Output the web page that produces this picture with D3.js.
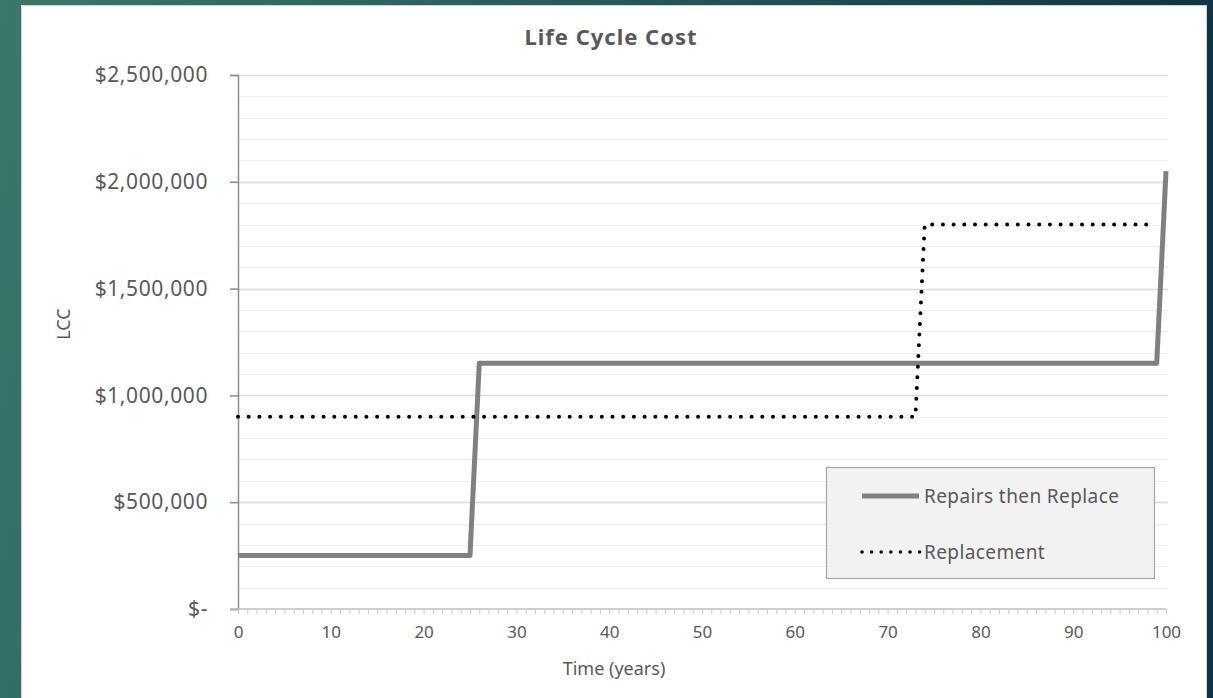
<!DOCTYPE html>
<html>
<head>
<meta charset="utf-8">
<script src="https://cdn.jsdelivr.net/npm/d3@7"></script>
<style>
  html, body { margin: 0; padding: 0; background: #2a5f5c; }
  svg { display: block; }
  text { font-family: "Noto Sans", "Open Sans", sans-serif; }
</style>
</head>
<body>
<svg id="chart" width="1213" height="698"></svg>
<script>
// ---- data ----
const title = "Life Cycle Cost";
const xLabel = "Time (years)";
const yLabel = "LCC";
const seriesNames = ["Repairs then Replace", "Replacement"];
// key points of each stepped series (year, cost)
const repairsYears = [0, 25, 26, 99, 100];
const repairsCost  = [250000, 250000, 1150000, 1150000, 2050000];
const replaceYears = [0, 73, 74, 99];
const replaceCost  = [900000, 900000, 1800000, 1800000];
const xTicks = [0, 10, 20, 30, 40, 50, 60, 70, 80, 90, 100];
const yTicks = [0, 500000, 1000000, 1500000, 2000000, 2500000];
const yTickLabels = ["$-", "$500,000", "$1,000,000", "$1,500,000", "$2,000,000", "$2,500,000"];

// ---- drawing ----
const W = 1213, H = 698;
const svg = d3.select("#chart");

const defs = svg.append("defs");
const grad = defs.append("linearGradient").attr("id", "bg")
  .attr("x1", "0").attr("y1", "0").attr("x2", "1").attr("y2", "0.15");
grad.append("stop").attr("offset", "0").attr("stop-color", "#3a786b");
grad.append("stop").attr("offset", "0.5").attr("stop-color", "#22595a");
grad.append("stop").attr("offset", "1").attr("stop-color", "#0f3344");
svg.append("rect").attr("width", W).attr("height", H).attr("fill", "url(#bg)");

// chart card
svg.append("rect").attr("x", 21.5).attr("y", 5.5).attr("width", 1185).attr("height", 705)
  .attr("fill", "#ffffff").attr("stroke", "#d4d4d4").attr("stroke-width", 1);

const x = d3.scaleLinear().domain([0, 100]).range([238, 1166]);
const y = d3.scaleLinear().domain([0, 2500000]).range([609, 75]);

// gridlines (minor every 100k, major every 500k)
const gridVals = d3.range(100000, 2500001, 100000);
svg.append("g").selectAll("line").data(gridVals).join("line")
  .attr("x1", x(0)).attr("x2", x(100) + 2)
  .attr("y1", d => Math.round(y(d)) + 0.5).attr("y2", d => Math.round(y(d)) + 0.5)
  .attr("stroke", d => d % 500000 === 0 ? "#d9d9d9" : "#ececec")
  .attr("stroke-width", d => d % 500000 === 0 ? 1.5 : 1.2);

// y axis
const yAxis = d3.axisLeft(y).tickValues(yTicks).tickSize(8).tickPadding(22)
  .tickFormat((d, i) => yTickLabels[i]);
const gy = svg.append("g").attr("transform", `translate(${x(0)},0)`).call(yAxis);
gy.select(".domain").attr("stroke", "#8c8c8c").attr("stroke-width", 1.5);
gy.selectAll(".tick line").attr("stroke", "#8c8c8c").attr("stroke-width", 1.5);
gy.selectAll(".tick text").attr("fill", "#595959").style("font-size", "21px")
  .style("letter-spacing", "0.6px")
  .style("font-family", "'Noto Sans', sans-serif");

// x axis with minor ticks every year
const gxMinor = svg.append("g").attr("transform", `translate(0,${y(0)})`)
  .call(d3.axisBottom(x).tickValues(d3.range(0, 101, 1)).tickSize(5).tickFormat(""));
gxMinor.select(".domain").remove();
gxMinor.selectAll(".tick line").attr("stroke", "#c8c8c8").attr("stroke-width", 1);

const gx = svg.append("g").attr("transform", `translate(0,${y(0)})`)
  .call(d3.axisBottom(x).tickValues(xTicks).tickSize(0).tickPadding(17));
gx.select(".domain").attr("stroke", "#bfbfbf").attr("stroke-width", 1.5)
  .attr("d", `M${x(0) - 8},0H${x(100)}`);
gx.selectAll(".tick text").attr("fill", "#595959").style("font-size", "17px")
  .style("font-family", "'Noto Sans', sans-serif");

// axis titles
svg.append("text").attr("x", 614).attr("y", 675).attr("text-anchor", "middle")
  .attr("fill", "#595959").style("font-size", "18px").text(xLabel);
svg.append("text").attr("transform", "translate(70,324) rotate(-90)").attr("text-anchor", "middle")
  .attr("fill", "#595959").style("font-size", "18px").text(yLabel);

// title
svg.append("text").attr("x", 611).attr("y", 45).attr("text-anchor", "middle")
  .attr("fill", "#595959").style("font-size", "22px").style("font-weight", "bold")
  .style("letter-spacing", "1px")
  .text(title);

// series
const line = d3.line().x(d => x(d[0])).y(d => y(d[1]));
const repairs = repairsYears.map((v, i) => [v, repairsCost[i]]);
const replace = replaceYears.map((v, i) => [v, replaceCost[i]]);

svg.append("path").datum(repairs).attr("d", line)
  .attr("fill", "none").attr("stroke", "#808080").attr("stroke-width", 5)
  .attr("stroke-linejoin", "round");
svg.append("path").datum(replace).attr("d", line)
  .attr("fill", "none").attr("stroke", "#000000").attr("stroke-width", 4)
  .attr("stroke-linecap", "round").attr("stroke-dasharray", "0 10.7");

// legend
const lg = svg.append("g");
lg.append("rect").attr("x", 826.5).attr("y", 467.5).attr("width", 328).attr("height", 111)
  .attr("fill", "#f2f2f2").attr("stroke", "#a6a6a6").attr("stroke-width", 1.2);
lg.append("line").attr("x1", 862).attr("x2", 919).attr("y1", 496).attr("y2", 496)
  .attr("stroke", "#808080").attr("stroke-width", 5);
lg.append("line").attr("x1", 862).attr("x2", 920).attr("y1", 552).attr("y2", 552)
  .attr("stroke", "#000").attr("stroke-width", 3.6).attr("stroke-linecap", "round")
  .attr("stroke-dasharray", "0 9.6");
lg.append("text").attr("x", 924).attr("y", 503).attr("fill", "#595959")
  .style("font-size", "19px").style("letter-spacing", "0.4px").text(seriesNames[0]);
lg.append("text").attr("x", 924).attr("y", 559).attr("fill", "#595959")
  .style("font-size", "19px").style("letter-spacing", "0.4px").text(seriesNames[1]);
</script>
</body>
</html>
